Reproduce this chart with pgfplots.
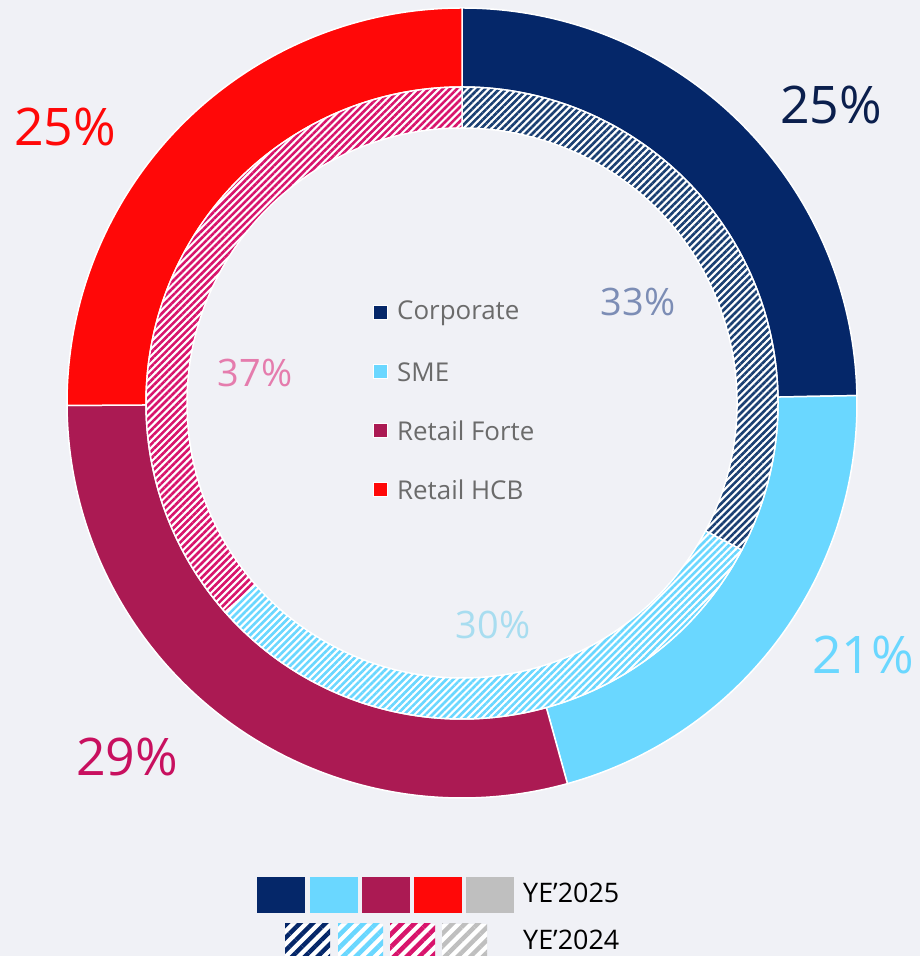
\documentclass[border=0pt]{standalone}
\usepackage{pgfplots}
\pgfplotsset{compat=1.18}
\usepackage{pgfplotstable}
\usetikzlibrary{patterns.meta}
\usepackage{fontspec}
\setmainfont{Open Sans}

\definecolor{bg}{HTML}{F0F1F6}
\definecolor{cNavy}{HTML}{052769}
\definecolor{cSky}{HTML}{6AD7FF}
\definecolor{cCrim}{HTML}{AB1A53}
\definecolor{cRed}{HTML}{FF0808}
\definecolor{cGray}{HTML}{BFBFBF}
\definecolor{cPink}{HTML}{D8146C}
\definecolor{hNavy}{HTML}{1A3F72}
\definecolor{tNavy}{HTML}{0B1F4D}
\definecolor{tCrim}{HTML}{C8105F}
\definecolor{tInNavy}{HTML}{7C8DB5}
\definecolor{tInSky}{HTML}{A8DDF0}
\definecolor{tInPink}{HTML}{E57CAD}
\definecolor{tLeg}{HTML}{6B6B6B}

% outer ring: YE'2025, inner ring: YE'2024 (shares in %)
\pgfplotstableread{
name pct
Corporate 24.7
SME 21.0
RetailForte 29.2
RetailHCB 25.1
}\outerdata
\pgfplotstableread{
name pct
Corporate 32.7
SME 30.8
RetailForte 36.5
}\innerdata

\colorlet{o0}{cNavy}\colorlet{o1}{cSky}\colorlet{o2}{cCrim}\colorlet{o3}{cRed}
\colorlet{i0}{hNavy}\colorlet{i1}{cSky}\colorlet{i2}{cPink}

\newcommand\computeangles[2]{%
  \pgfplotstablegetrowsof{#1}%
  \pgfmathtruncatemacro\nrows{\pgfplotsretval-1}%
  \gdef\cum{0}%
  \foreach \i in {0,...,\nrows}{%
    \pgfplotstablegetelem{\i}{pct}\of{#1}%
    \let\p\pgfplotsretval
    \pgfmathsetmacro\a{90-\cum*3.6}%
    \pgfmathsetmacro\b{90-(\cum+\p)*3.6}%
    \pgfmathsetmacro\cc{\cum+\p}%
    \expandafter\xdef\csname #2s\i\endcsname{\a}%
    \expandafter\xdef\csname #2e\i\endcsname{\b}%
    \xdef\cum{\cc}%
  }%
}

% start, end, r_in, r_out, style
\newcommand\sector[5]{%
  \path[#5] ([shift={(#1:#4)}]C) arc[start angle=#1, end angle=#2, radius=#4]
    -- ([shift={(#2:#3)}]C) arc[start angle=#2, end angle=#1, radius=#3] -- cycle;
}
\newcommand\legsq[3]{% y, colour, text
  \filldraw[fill=#2, draw=white, line width=1bp] (axis cs:373,#1-7) rectangle (axis cs:387,#1+7);
  \node[anchor=west, inner sep=0pt, font=\fontsize{26}{26}\selectfont, text=tLeg] at (axis cs:397,#1) {#3};
}
\newcommand\solidsq[2]{\fill[#2] (axis cs:#1,43) rectangle (axis cs:#1+48,79);}
\newcommand\hatchsq[2]{%
  \fill[white] (axis cs:#1,0) rectangle (axis cs:#1+45,32);
  \fill[pattern={Lines[angle=45, distance=9bp, line width=4.5bp]}, pattern color=#2] (axis cs:#1,0) rectangle (axis cs:#1+45,32);
}

\begin{document}
\computeangles{\outerdata}{o}%
\computeangles{\innerdata}{i}%
\begin{tikzpicture}
\begin{axis}[x=1bp, y=1bp, xmin=0, xmax=920, ymin=0, ymax=956,
  hide axis, scale only axis, clip=false]
\fill[bg] (axis cs:0,0) rectangle (axis cs:920,956);
\coordinate (C) at (axis cs:462,553);
% outer ring
\pgfplotsinvokeforeach{0,...,3}{%
  \sector{\csname os#1\endcsname}{\csname oe#1\endcsname}{316bp}{395bp}{fill=o#1, draw=white, line width=1.5bp}
}
% inner ring (hatched)
\pgfplotsinvokeforeach{0,...,2}{%
  \sector{\csname is#1\endcsname}{\csname ie#1\endcsname}{275bp}{316bp}{fill=white,
    postaction={pattern={Lines[angle=45, distance=5bp, line width=2.6bp]}, pattern color=i#1}}
  \sector{\csname is#1\endcsname}{\csname ie#1\endcsname}{275bp}{316bp}{draw=white, line width=1.5bp}
}
% percentage labels
\node[font=\fontsize{52}{52}\selectfont, text=tNavy] at (axis cs:831,851) {25\%};
\node[font=\fontsize{52}{52}\selectfont, text=cRed] at (axis cs:65,829) {25\%};
\node[font=\fontsize{52}{52}\selectfont, text=cSky] at (axis cs:863,301) {21\%};
\node[font=\fontsize{52}{52}\selectfont, text=tCrim] at (axis cs:127,199) {29\%};
\node[font=\fontsize{38}{38}\selectfont, text=tInNavy] at (axis cs:638,654) {33\%};
\node[font=\fontsize{38}{38}\selectfont, text=tInSky] at (axis cs:493,331) {30\%};
\node[font=\fontsize{38}{38}\selectfont, text=tInPink] at (axis cs:255,583) {37\%};
% center legend
\legsq{643}{cNavy}{Corporate}
\legsq{584}{cSky}{SME}
\legsq{525}{cCrim}{Retail Forte}
\legsq{466}{cRed}{Retail HCB}
% bottom legend
\solidsq{257}{cNavy}\solidsq{310}{cSky}\solidsq{362}{cCrim}\solidsq{414}{cRed}\solidsq{466}{cGray}
\hatchsq{285}{cNavy}\hatchsq{338}{cSky}\hatchsq{390}{cPink}\hatchsq{442}{cGray}
\node[anchor=west, inner sep=0pt, font=\fontsize{27}{27}\selectfont] at (axis cs:523,63) {YE’2025};
\node[anchor=west, inner sep=0pt, font=\fontsize{27}{27}\selectfont] at (axis cs:523,16) {YE’2024};
\end{axis}
\end{tikzpicture}
\end{document}
